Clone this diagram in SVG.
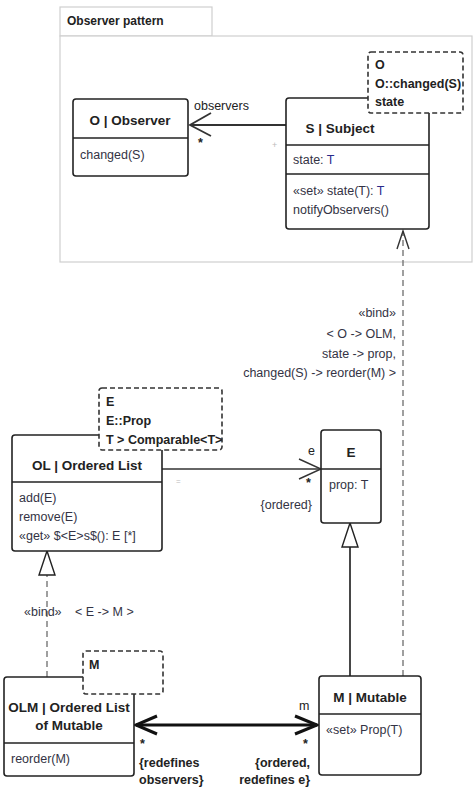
<svg xmlns="http://www.w3.org/2000/svg" width="474" height="790" viewBox="0 0 474 790">
<style>
text{font-family:"Liberation Sans",Arial,sans-serif;font-size:12.5px;fill:#333344}
.t{font-weight:bold;font-size:13.5px;fill:#222;text-anchor:middle}
.b{font-weight:bold;font-size:12.5px;fill:#222}
.box{fill:#fff;stroke:#222;stroke-width:1.6}
.div{stroke:#222;stroke-width:1.6}
.tpl{fill:#fff;stroke:#333;stroke-width:1.6;stroke-dasharray:5,3}
.frame{fill:#fff;stroke:#cfcfcf;stroke-width:1.2}
.ln{fill:none;stroke:#333;stroke-width:1.4}
.dash{fill:none;stroke:#777;stroke-width:1.4;stroke-dasharray:6,4}
.thick{fill:none;stroke:#111;stroke-width:3}
.tri{fill:#fff;stroke:#222;stroke-width:1.4}
.blue{fill:#2a2a8a}
.lbl{font-size:12.5px}
</style>
<rect width="474" height="790" fill="#fff"/>
<g id="frame">
<rect class="frame" x="60" y="7" width="152" height="29"/>
<rect class="frame" x="60" y="36" width="412" height="226"/>
<text x="67" y="25" class="b" style="font-size:12px">Observer pattern</text>
</g>
<g id="connectors">
<line class="ln" x1="286" y1="125" x2="190" y2="125" style="stroke-width:1.8"/>
<polyline class="ln" points="211,113 190,125 211,136" style="stroke-width:1.8"/>
<line class="dash" x1="403" y1="676" x2="403" y2="231"/>
<polyline class="ln" points="397,249 403,231 409,249"/>
<line class="ln" x1="162" y1="469" x2="321" y2="469"/>
<polyline class="ln" points="299,459 321,469 299,479"/>
<line class="ln" x1="350" y1="676" x2="350" y2="547" style="stroke-width:1.8"/>
<polygon class="tri" points="350,523 342,547 358,547"/>
<line class="dash" x1="47" y1="677" x2="47" y2="575"/>
<polygon class="tri" points="47,551 39,575 55,575"/>
<line class="thick" x1="136" y1="725" x2="317" y2="725"/>
<polyline class="thick" points="157,716 136,725 157,734"/>
<polyline class="thick" points="295,716 317,725 295,734"/>
</g>
<g id="labels">
<text x="194" y="110" style="fill:#222">observers</text>
<text x="198" y="147" style="fill:#222;font-weight:bold">*</text>
<text x="272" y="148" style="fill:#bbb;font-size:9px">+</text>
<text x="396" y="317" text-anchor="end" class="lbl">«bind»</text>
<text x="396" y="338" text-anchor="end" class="lbl">&lt; O -&gt; OLM,</text>
<text x="396" y="358" text-anchor="end" class="lbl">state -&gt; prop,</text>
<text x="396" y="377" text-anchor="end" class="lbl">changed(S) -&gt; reorder(M) &gt;</text>
<text x="308" y="455" style="fill:#222">e</text>
<text x="306" y="487" style="fill:#222;font-weight:bold">*</text>
<text x="312" y="509" text-anchor="end" class="lbl">{ordered}</text>
<text x="176" y="484" style="fill:#bbb;font-size:8px">=</text>
<text x="24" y="616" class="lbl">«bind»</text>
<text x="75" y="616" class="lbl">&lt; E -&gt; M &gt;</text>
<text x="299" y="710" style="fill:#222">m</text>
<text x="140" y="748" style="fill:#222;font-weight:bold">*</text>
<text x="303" y="748" style="fill:#222;font-weight:bold">*</text>
<text x="139" y="767" class="b">{redefines</text>
<text x="139" y="784" class="b">observers}</text>
<text x="310" y="767" class="b" text-anchor="end">{ordered,</text>
<text x="310" y="784" class="b" text-anchor="end">redefines e}</text>
</g>
<g id="observer">
<rect class="box" x="73" y="99" width="115" height="77" rx="3"/>
<line class="div" x1="73" y1="138" x2="188" y2="138"/>
<text x="130" y="125" class="t">O | Observer</text>
<text x="80" y="159">changed(S)</text>
</g>
<g id="subject">
<rect class="box" x="286" y="98" width="143" height="131" rx="3"/>
<line class="div" x1="286" y1="145" x2="429" y2="145"/>
<line class="div" x1="286" y1="174" x2="429" y2="174"/>
<text x="340" y="133" class="t">S | Subject</text>
<text x="293" y="164">state: <tspan class="blue">T</tspan></text>
<text x="293" y="195">«set» state(T): <tspan class="blue">T</tspan></text>
<text x="293" y="214">notifyObservers()</text>
<rect class="tpl" x="368" y="52" width="95" height="61" rx="3"/>
<text x="375" y="69" class="b">O</text>
<text x="375" y="88" class="b">O::changed(S)</text>
<text x="375" y="106" class="b">state</text>
</g>
<g id="orderedList">
<rect class="box" x="12" y="435" width="150" height="116" rx="3"/>
<line class="div" x1="12" y1="482" x2="162" y2="482"/>
<text x="87" y="470" class="t">OL | Ordered List</text>
<text x="19" y="502">add(E)</text>
<text x="19" y="521">remove(E)</text>
<text x="19" y="540">«get» $&lt;E&gt;s$(): E [*]</text>
<rect class="tpl" x="99" y="388" width="123" height="62" rx="3"/>
<text x="106" y="406" class="b">E</text>
<text x="106" y="425" class="b">E::Prop</text>
<text x="106" y="444" class="b">T &gt; Comparable&lt;T&gt;</text>
</g>
<g id="element">
<rect class="box" x="321" y="430" width="60" height="93" rx="3"/>
<line class="div" x1="321" y1="469" x2="381" y2="469"/>
<text x="351" y="457" class="t">E</text>
<text x="329" y="489">prop: T</text>
</g>
<g id="olm">
<rect class="box" x="4" y="677" width="130" height="99" rx="3"/>
<line class="div" x1="4" y1="743" x2="134" y2="743"/>
<text x="69" y="712" class="t">OLM | Ordered List</text>
<text x="69" y="730" class="t">of Mutable</text>
<text x="11" y="763">reorder(M)</text>
<rect class="tpl" x="83" y="651" width="80" height="43" rx="3"/>
<text x="89" y="669" class="b">M</text>
</g>
<g id="mutable">
<rect class="box" x="319" y="676" width="102" height="99" rx="3"/>
<line class="div" x1="319" y1="714" x2="421" y2="714"/>
<text x="370" y="702" class="t">M | Mutable</text>
<text x="326" y="734">«set» Prop(T)</text>
</g>
</svg>
